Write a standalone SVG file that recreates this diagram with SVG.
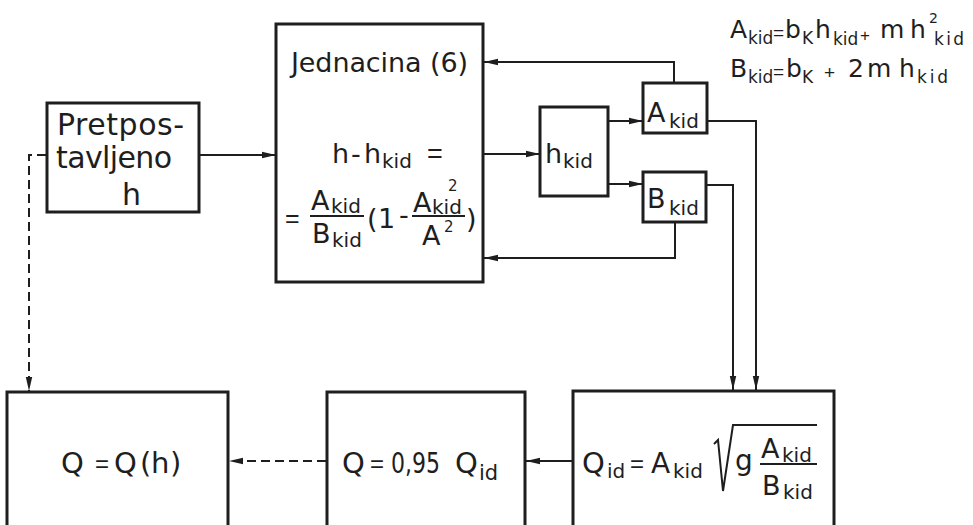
<svg xmlns="http://www.w3.org/2000/svg" width="973" height="525" viewBox="0 0 973 525">
<defs>
<marker id="ah" markerUnits="userSpaceOnUse" markerWidth="14" markerHeight="8" refX="14" refY="4" orient="auto">
<path d="M0,0.8 L14,4 L0,7.2 z" fill="#1e1e1e"/>
</marker>
</defs>
<style>
.box{fill:none;stroke:#1e1e1e;stroke-width:3}
.c{fill:none;stroke:#1e1e1e;stroke-width:2}
.dash{stroke-dasharray:9 5}
.bar{stroke:#1e1e1e;stroke-width:2}
text{font-family:"DejaVu Sans","Liberation Sans",Arial,sans-serif;fill:#1e1e1e}
.eq{font-family:"Liberation Sans",Arial,sans-serif}
.m{font-size:27px}
.s{font-size:20px}
.t{font-size:25px}
.ts{font-size:17px}
.sup{font-size:15px}
</style>
<rect width="973" height="525" fill="#ffffff"/>

<g id="connectors">
<path class="c" d="M199,155 H276" marker-end="url(#ah)"/>
<path class="c" d="M483,154 H540" marker-end="url(#ah)"/>
<path class="c" d="M608,121 H643" marker-end="url(#ah)"/>
<path class="c" d="M608,184 H643" marker-end="url(#ah)"/>
<path class="c" d="M674,82 V62 H484" marker-end="url(#ah)"/>
<path class="c" d="M675,222 V258 H484" marker-end="url(#ah)"/>
<path class="c" d="M707,121 H756 V390" marker-end="url(#ah)"/>
<path class="c" d="M707,185 H733 V390" marker-end="url(#ah)"/>
<path class="c" d="M574,461 H526" marker-end="url(#ah)"/>
<path class="c dash" d="M326,461 H229" marker-end="url(#ah)"/>
<path class="c dash" d="M46,155 H29 V391" marker-end="url(#ah)"/>
</g>

<g id="pretpostavljeno">
<rect class="box" x="47" y="103" width="152" height="109"/>
<text x="57" y="135" font-size="30" textLength="127">Pretpos-</text>
<text x="56" y="168" font-size="30" textLength="116">tavljeno</text>
<text x="122" y="205" font-size="30">h</text>
</g>

<g id="jednacina">
<rect class="box" x="276" y="24" width="207" height="258"/>
<text class="m" x="291" y="72" textLength="177">Jednacina (6)</text>
<text class="m" x="332" y="163">h</text>
<text class="m" x="351" y="163">-</text>
<text class="m" x="364" y="163">h</text>
<text class="s" x="382" y="168">kid</text>
<text class="eq" x="427" y="163" font-size="27">=</text>
<text class="eq" x="285" y="227" font-size="25">=</text>
<text class="m" x="311" y="210">A</text>
<text class="s" x="331" y="213">kid</text>
<line class="bar" x1="310" y1="216" x2="364" y2="216"/>
<text class="m" x="312" y="243">B</text>
<text class="s" x="332" y="247">kid</text>
<text class="m" x="367" y="228">(</text>
<text class="m" x="378" y="228">1</text>
<text class="m" x="399" y="224">-</text>
<text class="m" x="413" y="212">A</text>
<text class="sup" x="448" y="191">2</text>
<text class="s" x="432" y="214">kid</text>
<line class="bar" x1="412" y1="216" x2="465" y2="216"/>
<text class="m" x="422" y="245">A</text>
<text class="sup" x="444" y="232">2</text>
<text class="m" x="466" y="228">)</text>
</g>

<g id="hkid">
<rect class="box" x="540" y="107" width="68" height="89"/>
<text class="m" x="545" y="163">h</text>
<text class="s" x="563" y="168">kid</text>
</g>

<g id="akid">
<rect class="box" x="643" y="83" width="64" height="50"/>
<text class="m" x="647" y="122">A</text>
<text class="s" x="669" y="128">kid</text>
</g>

<g id="bkid">
<rect class="box" x="643" y="172" width="63" height="50"/>
<text class="m" x="647" y="208">B</text>
<text class="s" x="669" y="215">kid</text>
</g>

<g id="formulas">
<text class="t" x="730" y="38">A</text>
<text class="ts" x="748" y="44">kid</text>
<text class="eq" x="773" y="39" font-size="19">=</text>
<text class="t" x="785" y="38">b</text>
<text class="ts" x="802" y="44">K</text>
<text class="t" x="815" y="38">h</text>
<text class="ts" x="833" y="45">kid</text>
<text class="eq" x="860" y="41" font-size="17">+</text>
<text class="t" x="880" y="38">m</text>
<text class="t" x="910" y="38">h</text>
<text x="929" y="23" font-size="14">2</text>
<text class="ts" x="934" y="45" textLength="30">kid</text>
<text class="t" x="730" y="77">B</text>
<text class="ts" x="748" y="83">kid</text>
<text class="eq" x="773" y="78" font-size="19">=</text>
<text class="t" x="786" y="77">b</text>
<text class="ts" x="802" y="83">K</text>
<text class="eq" x="824" y="79" font-size="19">+</text>
<text class="t" x="848" y="77">2</text>
<text class="t" x="867" y="77">m</text>
<text class="t" x="899" y="77">h</text>
<text class="ts" x="917" y="83" textLength="31">kid</text>
</g>

<g id="qid">
<rect class="box" x="573" y="391" width="261" height="140"/>
<text x="582" y="473" font-size="29">Q</text>
<text class="s" x="607" y="478">id</text>
<text class="eq" x="630" y="472" font-size="24">=</text>
<text x="651" y="473" font-size="28">A</text>
<text class="s" x="673" y="478">kid</text>
<path class="c" d="M714,444 L718,440 L723,491 L733,425 H817" stroke-width="2.5"/>
<text x="735" y="470" font-size="28">g</text>
<text class="m" x="761" y="458">A</text>
<text class="s" x="782" y="462">kid</text>
<line class="bar" x1="760" y1="464" x2="817" y2="464"/>
<text class="m" x="762" y="495">B</text>
<text class="s" x="783" y="499">kid</text>
</g>

<g id="q095">
<rect class="box" x="327" y="392" width="198" height="140"/>
<text x="342" y="473" font-size="29">Q</text>
<text class="eq" x="370" y="472" font-size="24">=</text>
<text x="391" y="473" font-size="29" textLength="49" lengthAdjust="spacingAndGlyphs">0,95</text>
<text x="455" y="473" font-size="29">Q</text>
<text x="479" y="480" font-size="21">id</text>
</g>

<g id="qh">
<rect class="box" x="7" y="392" width="221" height="140"/>
<text x="61" y="473" font-size="29">Q</text>
<text class="eq" x="95" y="472" font-size="24">=</text>
<text x="114" y="473" font-size="29">Q</text>
<text x="140" y="473" font-size="29">(</text>
<text x="151" y="473" font-size="29">h</text>
<text x="170" y="473" font-size="29">)</text>
</g>
</svg>
